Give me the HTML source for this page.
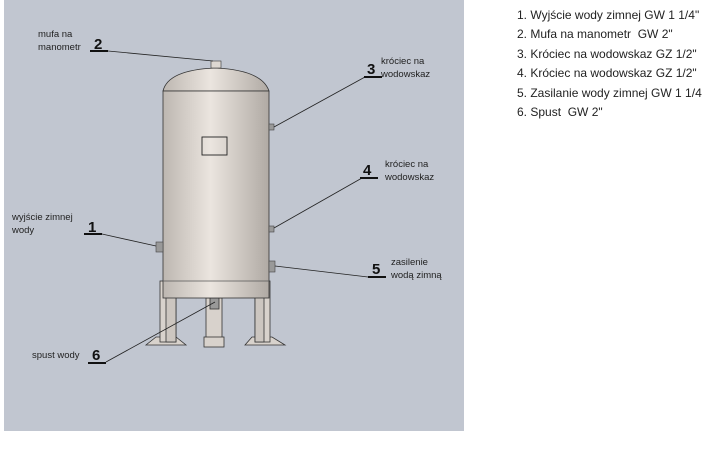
<!DOCTYPE html>
<html><head><meta charset="utf-8"><style>
body{margin:0;width:710px;height:449px;background:#fff;overflow:hidden;font-family:"Liberation Sans",sans-serif}
.list{position:absolute;left:517px;top:6px;font-size:12px;color:#222;line-height:19.4px;white-space:nowrap}
</style></head><body>
<svg width="710" height="449" style="position:absolute;left:0;top:0" font-family="Liberation Sans, sans-serif">
<defs><linearGradient id="g" x1="0" x2="1"><stop offset="0" stop-color="#bdb7b1"/><stop offset="0.45" stop-color="#ebe5df"/><stop offset="1" stop-color="#b0aaa4"/></linearGradient></defs>
<rect x="4" y="0" width="460" height="431" fill="#c1c6d0"/>
<g fill="#d8d2cc" stroke="#333" stroke-width="0.8">
<polygon points="146,345 186,345 176,337 156,337"/>
<polygon points="245,345 285,345 272,337 252,337"/>
<rect x="160" y="281" width="16" height="61"/>
<rect x="166" y="281" width="10" height="61" fill="#ccc6c0"/>
<rect x="255" y="281" width="15" height="61"/>
<rect x="255" y="281" width="9" height="61" fill="#ccc6c0"/>
<rect x="206" y="298" width="16" height="48"/>
<rect x="204" y="337" width="20" height="10"/>
<rect x="210" y="298" width="9" height="11" fill="#999"/>
</g>
<path d="M163,91 Q168,70 215,68 Q262,70 269,91 Z" fill="url(#g)" stroke="#333" stroke-width="0.8"/>
<rect x="163" y="91" width="106" height="207" fill="url(#g)" stroke="#333" stroke-width="0.8"/>
<line x1="163" y1="281" x2="269" y2="281" stroke="#555" stroke-width="0.8"/>
<rect x="211" y="61" width="10" height="7" fill="#ddd7d1" stroke="#333" stroke-width="0.6"/>
<rect x="202" y="137" width="25" height="18" fill="none" stroke="#222" stroke-width="0.9"/>
<g fill="#999" stroke="#444" stroke-width="0.6">
<rect x="269" y="124" width="5" height="6"/>
<rect x="269" y="226" width="5" height="6"/>
<rect x="269" y="261" width="6" height="11"/>
<rect x="156" y="242" width="7" height="10"/>
</g>
<g stroke="#222" stroke-width="0.8" fill="none">
<line x1="108" y1="51" x2="213" y2="61"/>
<line x1="365" y1="77" x2="274" y2="127"/>
<line x1="362" y1="178" x2="274" y2="228"/>
<line x1="368" y1="277" x2="275" y2="266"/>
<line x1="102" y1="234" x2="156" y2="246"/>
<line x1="106" y1="362" x2="215" y2="302"/>
</g>
<g stroke="#111" stroke-width="2">
<line x1="90" y1="51" x2="108" y2="51"/>
<line x1="364" y1="77" x2="382" y2="77"/>
<line x1="360" y1="178" x2="378" y2="178"/>
<line x1="368" y1="277" x2="386" y2="277"/>
<line x1="84" y1="234" x2="102" y2="234"/>
<line x1="88" y1="363" x2="106" y2="363"/>
</g>
<g font-weight="bold" font-size="15" fill="#111">
<text x="94" y="49">2</text><text x="367" y="74">3</text><text x="363" y="175">4</text>
<text x="372" y="274">5</text><text x="88" y="232">1</text><text x="92" y="360">6</text>
</g>
<g font-size="9.5" fill="#222">
<text x="38" y="37">mufa na</text><text x="38" y="50">manometr</text>
<text x="381" y="64">króciec na</text><text x="381" y="77">wodowskaz</text>
<text x="385" y="167">króciec na</text><text x="385" y="180">wodowskaz</text>
<text x="391" y="265">zasilenie</text><text x="391" y="278">wodą zimną</text>
<text x="12" y="220">wyjście zimnej</text><text x="12" y="233">wody</text>
<text x="32" y="358">spust wody</text>
</g>
</svg>
<div class="list">1. Wyjście wody zimnej GW 1 1/4"<br>2. Mufa na manometr&nbsp; GW 2"<br>3. Króciec na wodowskaz GZ 1/2"<br>4. Króciec na wodowskaz GZ 1/2"<br>5. Zasilanie wody zimnej GW 1 1/4<br>6. Spust&nbsp; GW 2"</div>
</body></html>
